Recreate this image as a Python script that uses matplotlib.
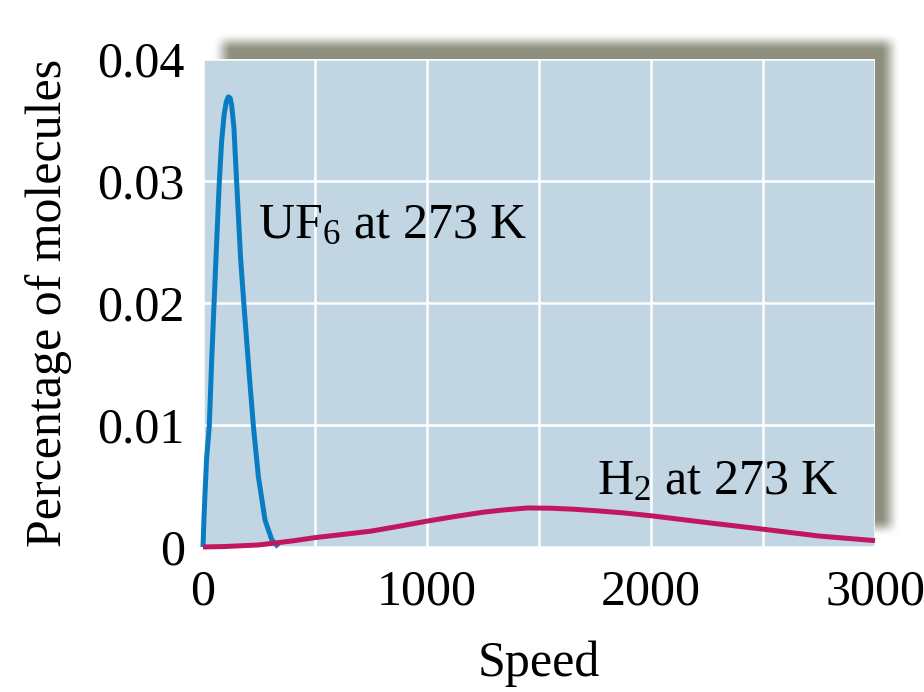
import numpy as np
import matplotlib
matplotlib.use("Agg")
import matplotlib.pyplot as plt
from matplotlib.ticker import FixedLocator

plt.rcParams['font.family'] = ['Liberation Serif', 'DejaVu Serif']
plt.rcParams['mathtext.default'] = 'regular'

# ---- data ----
uf6_speed = [0, 4, 9, 16, 28, 39, 49, 61, 73, 83, 94, 104, 113, 121, 128, 138, 150,
             168, 183, 207, 225, 247, 277, 307, 336]
uf6_pct = [0.0, 0.0022, 0.0044, 0.0072, 0.0099, 0.0154, 0.0198, 0.0250, 0.0300,
           0.0332, 0.0354, 0.0365, 0.0369, 0.0368, 0.0362, 0.0344, 0.0300, 0.0236,
           0.0198, 0.0140, 0.0099, 0.0058, 0.0022, 0.0006, 0.0]

h2_speed = [0, 100, 250, 400, 500, 625, 750, 875, 1000, 1125, 1250, 1350, 1450, 1550,
            1650, 1750, 1875, 2000, 2250, 2500, 2750, 3000]
h2_pct = [0.0, 0.00004, 0.00017, 0.0005, 0.00077, 0.00103, 0.0013, 0.0017, 0.00212,
          0.0025, 0.00285, 0.00305, 0.0032, 0.00318, 0.0031, 0.00298, 0.0028,
          0.00256, 0.0020, 0.00146, 0.0009, 0.00052]

x_ticks = [0, 1000, 2000, 3000]
x_minor = [500, 1500, 2500]
y_ticks = [0, 0.01, 0.02, 0.03, 0.04]
y_tick_labels = ["0", "0.01", "0.02", "0.03", "0.04"]

W, H = 924, 692
fig = plt.figure(figsize=(W / 100, H / 100), dpi=100)

# soft drop shadow behind the plot area (pixel image)
xx = np.arange(W)[None, :]
yy = np.arange(H)[:, None]
def ramp(v, lo, hi, w):
    a = np.clip((v - lo) / w, 0, 1) * np.clip((hi - v) / w, 0, 1)
    return a * a * (3 - 2 * a)
alpha = ramp(xx, 212, 900, 20) * ramp(yy, 32, 536, 18)
img = np.zeros((H, W, 4))
img[..., 0] = 0.56
img[..., 1] = 0.56
img[..., 2] = 0.50
img[..., 3] = alpha
fig.figimage(img, xo=0, yo=0, origin='upper', zorder=0)

left, right, bottom, top = 203, 875, 547, 59
ax = fig.add_axes([left / W, 1 - bottom / H, (right - left) / W, (bottom - top) / H])
ax.set_zorder(1)
ax.set_facecolor('#c1d5e2')
for s in ax.spines.values():
    s.set_visible(False)

ax.set_xlim(0, 3000)
ax.set_ylim(0, 0.04)
ax.xaxis.set_major_locator(FixedLocator(x_ticks))
ax.xaxis.set_minor_locator(FixedLocator(x_minor))
ax.set_yticks(y_ticks)
ax.set_yticklabels(y_tick_labels)
ax.tick_params(axis='both', which='both', length=0, labelsize=36)
ax.tick_params(axis='x', pad=16)
ax.tick_params(axis='y', pad=13)

ax.grid(True, which='both', color='white', linewidth=1.8)
ax.set_axisbelow(True)

ax.plot(uf6_speed, uf6_pct, color='#0a7dc2', linewidth=3.6, clip_on=False,
        solid_capstyle='butt', solid_joinstyle='round', zorder=3)
ax.plot(h2_speed, h2_pct, color='#c0175e', linewidth=3.6, clip_on=False,
        solid_capstyle='butt', solid_joinstyle='round', zorder=4)

ax.text(245, 0.0253, "UF$_6$ at 273 K", fontsize=36, va='baseline', ha='left')
ax.text(1760, 0.0043, "H$_2$ at 273 K", fontsize=36, va='baseline', ha='left')

ax.set_xlabel("Speed", fontsize=36, labelpad=18)
ax.set_ylabel("Percentage of molecules", fontsize=36)
ax.yaxis.set_label_coords(-0.195, 0.5)

fig.savefig("out.png", dpi=100)
